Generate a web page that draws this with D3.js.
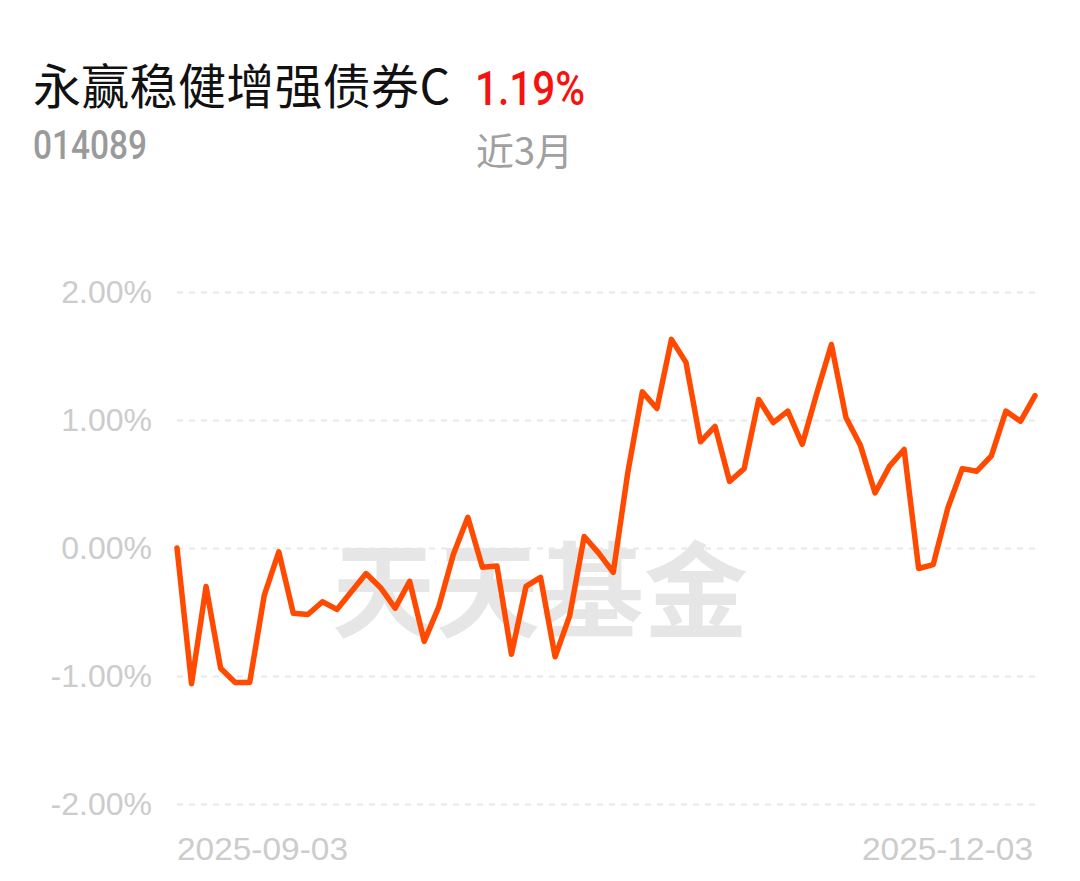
<!DOCTYPE html>
<html>
<head>
<meta charset="utf-8">
<script src="https://cdn.jsdelivr.net/npm/d3@7"></script>
<style>
  html, body { margin: 0; padding: 0; background: #fff; }
  svg { display: block; }
</style>
</head>
<body>
<svg id="chart"></svg>
<script>
const width = 1080
const height = 881
const margin = { top: 292, right: 45, bottom: 77, left: 177 }

const fundName = '永赢稳健增强债券C'
const fundCode = '014089'
const periodReturn = '1.19%'
const periodLabel = '近3月'

// cumulative return (%) for each trading day, 2025-09-03 .. 2025-12-03
const values = [
    0.00, -1.06, -0.30, -0.94, -1.05, -1.05, -0.37, -0.03, -0.51, -0.52,
    -0.42, -0.48, -0.34, -0.20, -0.31, -0.47, -0.26, -0.73, -0.46, -0.05,
    0.24, -0.15, -0.14, -0.83, -0.30, -0.23, -0.85, -0.53, 0.09, -0.04,
    -0.19, 0.59, 1.22, 1.09, 1.63, 1.45, 0.83, 0.95, 0.52, 0.62,
    1.16, 0.98, 1.07, 0.81, 1.21, 1.59, 1.02, 0.80, 0.43, 0.64,
    0.77, -0.16, -0.13, 0.31, 0.62, 0.60, 0.72, 1.07, 0.99, 1.19
]
const yTicks = [-2, -1, 0, 1, 2]
const xTickLabels = ['2025-09-03', '2025-12-03']

const svg = d3.select('#chart')
    .attr('width', width)
    .attr('height', height)
    .attr('viewBox', [0, 0, width, height])

const x = d3.scaleLinear()
    .domain([0, values.length - 1])
    .range([margin.left, width - margin.right])

const y = d3.scaleLinear()
    .domain([-2, 2])
    .range([height - margin.bottom, margin.top])

// header
svg.append('text')
    .attr('x', 33).attr('y', 104)
    .attr('font-family', '"Noto Sans CJK SC", sans-serif')
    .attr('font-size', 48)
    .attr('textLength', 417)
    .attr('lengthAdjust', 'spacing')
    .attr('fill', '#111')
    .text(fundName)

svg.append('text')
    .attr('x', 475).attr('y', 105)
    .attr('font-family', 'Roboto, sans-serif')
    .attr('font-weight', 500)
    .attr('font-size', 48)
    .attr('textLength', 110)
    .attr('lengthAdjust', 'spacingAndGlyphs')
    .attr('fill', '#f5120f')
    .text(periodReturn)

svg.append('text')
    .attr('x', 33).attr('y', 159)
    .attr('font-family', 'Roboto, sans-serif')
    .attr('font-weight', 500)
    .attr('font-size', 40)
    .attr('textLength', 114)
    .attr('lengthAdjust', 'spacingAndGlyphs')
    .attr('fill', '#9a9a9a')
    .text(fundCode)

svg.append('text')
    .attr('x', 476).attr('y', 165)
    .attr('font-family', '"Noto Sans CJK SC", sans-serif')
    .attr('font-size', 38)
    .attr('fill', '#a0a0a0')
    .text(periodLabel)

// watermark
svg.append('text')
    .attr('x', 540).attr('y', 630)
    .attr('text-anchor', 'middle')
    .attr('font-family', '"Noto Sans CJK SC", serif')
    .attr('font-weight', 700)
    .attr('font-size', 104)
    .attr('fill', '#e6e6e6')
    .text('天天基金')

// grid + y labels
const yAxis = g => g
    .attr('transform', `translate(${margin.left},0)`)
    .call(d3.axisLeft(y)
        .tickValues(yTicks)
        .tickSize(-(width - margin.left - margin.right))
        .tickPadding(25)
        .tickFormat(d => d.toFixed(2) + '%'))
    .call(g => g.select('.domain').remove())
    .call(g => g.selectAll('.tick line')
        .attr('stroke', '#e8e8e8')
        .attr('stroke-width', 2)
        .attr('stroke-dasharray', '6,6'))
    .call(g => g.selectAll('.tick text')
        .attr('font-family', '"Liberation Sans", Arial, sans-serif')
        .attr('font-size', 32)
        .attr('fill', '#cccccc'))

svg.append('g').call(yAxis)

// x labels: first and last day
svg.append('g')
    .selectAll('text')
    .data(xTickLabels)
    .join('text')
    .attr('x', (d, i) => i === 0 ? x(0) : x(values.length - 1) - 2)
    .attr('y', 860)
    .attr('text-anchor', (d, i) => i === 0 ? 'start' : 'end')
    .attr('font-family', '"Liberation Sans", Arial, sans-serif')
    .attr('font-size', 32)
    .attr('textLength', 171)
    .attr('lengthAdjust', 'spacingAndGlyphs')
    .attr('fill', '#cccccc')
    .text(d => d)

const line = d3.line()
    .x((d, i) => x(i))
    .y(d => y(d))

svg.append('path')
    .datum(values)
    .attr('fill', 'none')
    .attr('stroke', '#ff4a00')
    .attr('stroke-width', 5.5)
    .attr('stroke-linejoin', 'round')
    .attr('stroke-linecap', 'round')
    .attr('d', line)
</script>
</body>
</html>
